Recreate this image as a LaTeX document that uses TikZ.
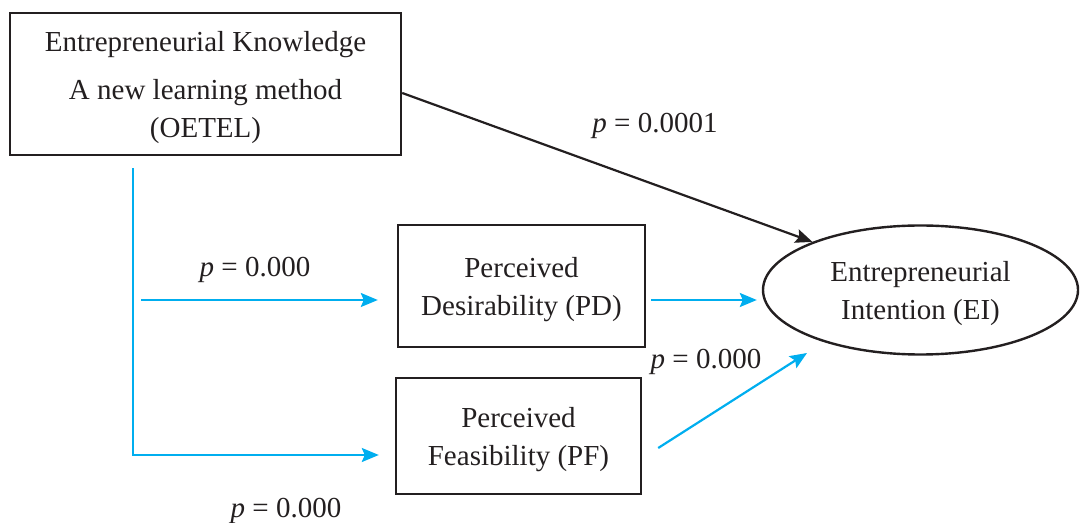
\documentclass[tikz,border=0pt]{standalone}
\usepackage{fontspec}
\setmainfont{Liberation Serif}
\usetikzlibrary{arrows.meta,positioning,calc,shapes.geometric}
\definecolor{pathblue}{RGB}{0,174,239}
\definecolor{inkblack}{RGB}{35,31,32}

\begin{document}
\begin{tikzpicture}[x=0.5pt,y=-0.5pt,
        font=\fontsize{14.5}{19}\selectfont, text=inkblack,
        box/.style={draw=inkblack, line width=1.2pt, align=center, inner sep=0pt, text depth=-2pt},
        tip/.style={-{Stealth[length=8.5pt,width=7pt,inset=1.5pt]}},
        blueline/.style={draw=pathblue, line width=1.1pt, tip},
        blackline/.style={draw=inkblack, line width=1.1pt, tip},
        plabel/.style={inner sep=0pt}]
        \useasboundingbox (0,0) rectangle (1080,523);
        \node[box, minimum width=195.5pt, minimum height=71pt] (know) at (205.5,84)
            {Entrepreneurial Knowledge\\[5pt] A new learning method\\ (OETEL)};
        \node[box, minimum width=123.5pt, minimum height=61pt] (pd) at (521.5,286)
            {Perceived\\ Desirability (PD)};
        \node[box, minimum width=122.5pt, minimum height=58pt] (pf) at (518.5,436)
            {Perceived\\ Feasibility (PF)};
        \node[box, ellipse, minimum width=157.5pt, minimum height=64.5pt] (ei) at (920.5,290)
            {Entrepreneurial\\ Intention (EI)};
        % free ends of the paths
        \coordinate (split) at ($(know.south)+(-72.5,12)$);
        \coordinate (pdin) at ($(pd.west)+(-19,14)$);
        \coordinate (pdstart) at ($(split |- pdin)+(8,0)$);
        \coordinate (pfin) at ($(pf.west)+(-16,19)$);
        \coordinate (pdout) at ($(pd.east)+(5,14)$);
        \coordinate (eipd) at ($(ei.west)+(-5,10)$);
        \coordinate (pfout) at ($(pf.east)+(16,12)$);
        \coordinate (eipf) at ($(ei.center)+(-113.5,63)$);
        \draw[blueline] (split) |- (pfin);
        \draw[blueline] (pdstart) -- (pdin);
        \draw[blueline] (pdout) -- (eipd);
        \draw[blueline] (pfout) -- (eipf);
        \draw[blackline] ($(know.east)+(0,9)$) -- (ei.156);
        \node[plabel] (lknow) at (655,126) {\textit{p} = 0.0001};
        \node[plabel] (lpd) at (255,270) {\textit{p} = 0.000};
        \node[plabel] (lei) at (706,362) {\textit{p} = 0.000};
        \node[plabel] (lpf) at (286,511) {\textit{p} = 0.000};
\end{tikzpicture}
\end{document}
